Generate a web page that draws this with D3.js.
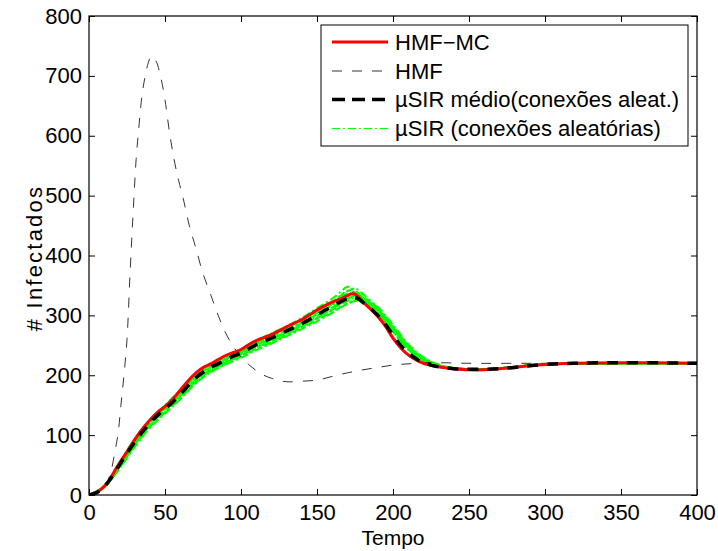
<!DOCTYPE html>
<html>
<head>
<meta charset="utf-8">
<script src="https://cdn.jsdelivr.net/npm/d3@7"></script>
<style>
  html, body { margin: 0; padding: 0; background: #fff; }
  svg text { font-family: "Liberation Sans", Arial, Helvetica, sans-serif; fill: #000; }
</style>
</head>
<body>
<svg id="chart" width="718" height="551"></svg>
<script>
// Time samples (Tempo) and infected counts for each model
const tHMF = [0,5,10,13,15,17,19,21,23,25,27,29,31,33,35,37,39,41,44,47,50,53,56,59,62,66,70,75,80,85,90,95,100,105,110,115,120,125,131,140,150,160,170,180,190,200,210,220,230,250,300,350,400];
const vHMF = [0,3,12,28,45,72,100,150,200,260,370,470,560,620,670,700,722,733,725,700,660,605,560,525,495,450,415,370,335,300,270,248,230,218,208,200,195,191,189,190,192,198,204,209,213,217,219,221,221,220,220,220,220];

const tMC = [0,3,6,9,12,15,18,21,25,30,35,40,45,50,55,60,65,70,75,80,85,90,95,100,105,110,115,120,125,130,135,140,145,150,155,160,165,170,173,176,180,185,190,195,200,205,210,215,220,230,240,250,260,270,280,290,300,320,350,400];
const vMC = [0,2,6,12,20,32,45,57,72,92,110,125,138,148,160,175,190,203,213,219,226,233,238,243,251,258,263,268,274,281,287,293,301,309,316,322,327,333,336,334,323,311,298,282,262,246,234,226,220,214,211,209,209,211,213,216,218,220,221,220];

const tMedio = [0,5,10,15,20,25,30,35,40,45,50,55,60,65,70,75,80,85,90,95,100,105,110,115,120,125,130,135,140,145,150,155,160,165,170,173,177,180,185,190,195,200,205,210,215,220,230,240,250,260,270,280,290,300,320,350,400];
const vMedio = [0,4,14,30,50,70,88,105,120,133,144,155,168,182,195,205,213,219,226,232,237,244,251,257,262,268,274,280,286,293,301,308,315,322,328,330,328,322,312,300,285,267,250,237,228,221,214,211,210,210,211,213,216,218,220,221,220];

// Individual runs with random connections
const tRuns = [0,10,20,30,40,50,60,70,80,90,100,110,120,130,140,150,160,165,170,175,180,190,200,210,220,230,240,260,300,400];
const run1  = [0,13,44,80,112,136,160,186,205,218,229,242,253,265,277,290,304,312,320,326,322,305,276,246,226,216,211,210,218,220];
const run2  = [0,15,54,94,126,150,175,202,219,232,244,258,270,282,296,312,328,338,348,342,330,308,277,247,227,216,212,210,218,220];
const run3  = [0,14,47,84,115,139,162,188,206,219,231,244,255,267,279,292,306,313,319,324,321,303,273,243,224,215,211,210,218,220];
const run4  = [0,14,51,90,122,147,171,198,215,228,239,253,265,277,289,304,319,328,336,334,325,304,273,243,225,215,211,210,218,220];
const run5  = [0,13,46,83,116,141,165,190,208,221,233,246,257,269,281,295,309,317,324,329,326,309,280,249,228,217,212,210,218,220];
const run6  = [0,14,50,88,120,145,170,197,214,227,238,252,263,275,287,302,317,325,333,337,331,310,278,247,227,216,212,210,218,220];
const run7  = [0,15,52,91,123,146,169,195,213,226,240,255,268,280,292,307,321,330,340,345,336,312,280,248,227,216,212,210,218,220];
const run8  = [0,13,45,82,114,138,161,187,207,222,235,248,259,271,283,296,311,319,327,333,330,314,284,252,230,218,212,210,218,220];
const run9  = [0,14,49,87,119,143,166,192,210,223,236,250,261,273,285,299,313,321,328,331,328,311,282,250,229,217,212,210,218,220];
const run10 = [0,15,53,93,125,149,173,200,217,230,242,256,268,279,292,307,323,332,341,338,327,305,274,244,225,215,211,210,218,220];
const runs = [run1, run2, run3, run4, run5, run6, run7, run8, run9, run10];

const xTicks = [0,50,100,150,200,250,300,350,400];
const yTicks = [0,100,200,300,400,500,600,700,800];

const legendLabels = ["HMF\u2212MC", "HMF", "\u00b5SIR m\u00e9dio(conex\u00f5es aleat.)", "\u00b5SIR (conex\u00f5es aleat\u00f3rias)"];

const svg = d3.select("#chart");
const plot = { left: 89, right: 697, top: 16, bottom: 495 };

const x = d3.scaleLinear().domain([0, 400]).range([plot.left, plot.right]);
const y = d3.scaleLinear().domain([0, 800]).range([plot.bottom, plot.top]);

const zip = (ts, vs) => ts.map((t, i) => [t, vs[i]]);
const line = d3.line().x(d => x(d[0])).y(d => y(d[1])).curve(d3.curveCatmullRom.alpha(0.5));

svg.append("defs").append("clipPath").attr("id", "clip")
  .append("rect").attr("x", plot.left).attr("y", plot.top)
  .attr("width", plot.right - plot.left).attr("height", plot.bottom - plot.top);

const g = svg.append("g").attr("clip-path", "url(#clip)");

// Style of each series
const styles = {
  mc:    { stroke: "#ff0000", width: 3, dash: null },
  hmf:   { stroke: "#000000", width: 0.8, dash: "10,10" },
  medio: { stroke: "#000000", width: 3.5, dash: "11,9" },
  runs:  { stroke: "#00ff00", width: 2, dash: "8,3,2,3" }
};

// Random-connection runs (drawn first, underneath)
runs.forEach((r, i) => {
  g.append("path").attr("d", line(zip(tRuns, r)))
    .attr("fill", "none").attr("stroke", styles.runs.stroke)
    .attr("stroke-width", styles.runs.width).attr("stroke-dasharray", styles.runs.dash)
    .attr("stroke-dashoffset", i * 3);
});

g.append("path").attr("d", line(zip(tHMF, vHMF)))
  .attr("fill", "none").attr("stroke", styles.hmf.stroke)
  .attr("stroke-width", styles.hmf.width).attr("stroke-dasharray", styles.hmf.dash);

g.append("path").attr("d", line(zip(tMC, vMC)))
  .attr("fill", "none").attr("stroke", styles.mc.stroke)
  .attr("stroke-width", styles.mc.width);

g.append("path").attr("d", line(zip(tMedio, vMedio)))
  .attr("fill", "none").attr("stroke", styles.medio.stroke)
  .attr("stroke-width", styles.medio.width).attr("stroke-dasharray", styles.medio.dash);

// Axes with inward ticks, box style
const tickLen = 6;
const fontSize = 22;

const xAxisB = d3.axisBottom(x).tickValues(xTicks).tickSizeInner(-tickLen).tickSizeOuter(0).tickPadding(9);
const xAxisT = d3.axisTop(x).tickValues(xTicks).tickSizeInner(-tickLen).tickSizeOuter(0).tickFormat("");
const yAxisL = d3.axisLeft(y).tickValues(yTicks).tickSizeInner(-tickLen).tickSizeOuter(0).tickPadding(7);
const yAxisR = d3.axisRight(y).tickValues(yTicks).tickSizeInner(-tickLen).tickSizeOuter(0).tickFormat("");

function styleAxis(sel) {
  sel.select(".domain").remove();
  sel.selectAll("line").attr("stroke", "#000").attr("stroke-width", 1);
  sel.selectAll("text").attr("font-size", fontSize).attr("fill", "#000")
    .style("font-family", "'Liberation Sans', Arial, sans-serif");
}

svg.append("g").attr("transform", `translate(0,${plot.bottom})`).call(xAxisB).call(styleAxis);
svg.append("g").attr("transform", `translate(0,${plot.top})`).call(xAxisT).call(styleAxis);
svg.append("g").attr("transform", `translate(${plot.left},0)`).call(yAxisL).call(styleAxis);
svg.append("g").attr("transform", `translate(${plot.right},0)`).call(yAxisR).call(styleAxis);

svg.append("rect").attr("x", plot.left).attr("y", plot.top)
  .attr("width", plot.right - plot.left).attr("height", plot.bottom - plot.top)
  .attr("fill", "none").attr("stroke", "#000").attr("stroke-width", 1.2);

// Axis titles
svg.append("text").attr("x", (plot.left + plot.right) / 2).attr("y", 545)
  .attr("text-anchor", "middle").attr("font-size", 21).text("Tempo");
svg.append("text").attr("transform", "translate(42,258) rotate(-90)")
  .attr("text-anchor", "middle").attr("font-size", 22)
  .attr("letter-spacing", 2.2).text("# Infectados");

// Legend
const leg = svg.append("g");
leg.append("rect").attr("x", 321).attr("y", 25).attr("width", 367).attr("height", 121)
  .attr("fill", "#fff").attr("stroke", "#000").attr("stroke-width", 1);

const legStyles = [styles.mc, styles.hmf, styles.medio, styles.runs];
const rowY = [42, 71, 99.5, 128.5];
legendLabels.forEach((lab, i) => {
  const s = legStyles[i];
  leg.append("line").attr("x1", 332).attr("x2", 388).attr("y1", rowY[i]).attr("y2", rowY[i])
    .attr("stroke", s.stroke).attr("stroke-width", i === 3 ? 1 : s.width)
    .attr("stroke-dasharray", i === 2 ? "13,7" : s.dash);
  leg.append("text").attr("x", 395).attr("y", rowY[i]).attr("dy", "0.35em")
    .attr("font-size", fontSize).text(lab);
});
</script>
</body>
</html>
